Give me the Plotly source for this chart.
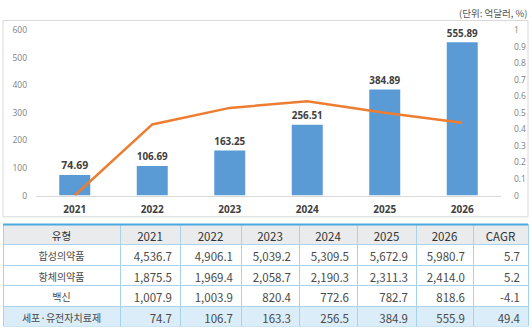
import plotly.graph_objects as go

W, H = 532, 333

years = ["2021", "2022", "2023", "2024", "2025", "2026"]
market = [74.69, 106.69, 163.25, 256.51, 384.89, 555.89]
growth = [0.0, 0.43, 0.53, 0.57, 0.50, 0.44]

left_ticks = [0, 100, 200, 300, 400, 500, 600]
right_ticks = [0, 0.1, 0.2, 0.3, 0.4, 0.5, 0.6, 0.7, 0.8, 0.9, 1]
right_tick_text = ["0", "0.1", "0.2", "0.3", "0.4", "0.5", "0.6", "0.7", "0.8", "0.9", "1"]

unit_text = "(단위: 억달러, %)"

table_header = ["유형", "2021", "2022", "2023", "2024", "2025", "2026", "CAGR"]
types = ["합성의약품", "항체의약품", "백신", "세포·유전자치료제"]
v2021 = [4536.7, 1875.5, 1007.9, 74.7]
v2022 = [4906.1, 1969.4, 1003.9, 106.7]
v2023 = [5039.2, 2058.7, 820.4, 163.3]
v2024 = [5309.5, 2190.3, 772.6, 256.5]
v2025 = [5672.9, 2311.3, 782.7, 384.9]
v2026 = [5980.7, 2414.0, 818.6, 555.9]
cagr = [5.7, 5.2, -4.1, 49.4]


def px_x(x):
    return x / W


def px_y(y):
    return 1 - y / H


fig = go.Figure()

fig.add_trace(go.Bar(
    x=years, y=market,
    marker=dict(color="#5b9bd5", line=dict(width=0)),
    text=[f"{v:.2f}" for v in market],
    textposition="outside",
    textfont=dict(family="Open Sans", size=10.5, color="#404040", weight="bold"),
    cliponaxis=False,
    width=0.4,
    showlegend=False,
))

fig.add_trace(go.Scatter(
    x=years, y=growth, yaxis="y2",
    mode="lines",
    line=dict(color="#ed7d31", width=2.5),
    showlegend=False,
))

fmt = lambda arr: [f"{v:,.1f}" for v in arr]
cols = [types, fmt(v2021), fmt(v2022), fmt(v2023), fmt(v2024), fmt(v2025), fmt(v2026),
        [f"{v:.1f}" for v in cagr]]
row_fill = ["white", "white", "white", "#dbedf8"]

fig.add_trace(go.Table(
    domain=dict(x=[px_x(3), px_x(528)], y=[px_y(332), px_y(226)]),
    columnwidth=[117, 60, 61, 58, 58, 59, 57, 55],
    header=dict(
        values=table_header,
        fill_color="#e9ebed",
        line=dict(color="#a9d3ec", width=1),
        align="center",
        font=dict(family="Noto Sans CJK KR", size=[10.5] + [11.5] * 7, color="#333333"),
        height=20,
    ),
    cells=dict(
        values=cols,
        fill_color=[row_fill] * 8,
        line=dict(color="#a9d3ec", width=1),
        align=["center"] + ["right"] * 7,
        font=dict(family="Noto Sans CJK KR", size=[10] + [11.5] * 7, color="#4a4a4a"),
        height=20.5,
    ),
))

fig.update_layout(
    width=W, height=H,
    margin=dict(l=0, r=0, t=0, b=0),
    paper_bgcolor="white",
    plot_bgcolor="white",
    bargap=0.6,
    xaxis=dict(
        domain=[px_x(36), px_x(501)],
        showline=True, linecolor="#d9d9d9", linewidth=1,
        showgrid=False, ticks="",
        tickfont=dict(family="Open Sans", size=10, color="#404040", weight="bold"),
        ticklabelstandoff=4,
        anchor="y",
    ),
    yaxis=dict(
        domain=[px_y(196), px_y(25)],
        range=[0, 600],
        tickvals=left_ticks,
        showgrid=False, zeroline=False, showline=False,
        tickfont=dict(family="Open Sans", size=8.5, color="#7f7f7f"),
        ticklabelstandoff=8,
    ),
    yaxis2=dict(
        domain=[px_y(196), px_y(25)],
        range=[0, 1],
        overlaying="y", side="right",
        tickvals=right_ticks, ticktext=right_tick_text,
        showgrid=False, zeroline=False, showline=False,
        tickfont=dict(family="Open Sans", size=8.5, color="#7f7f7f"),
        ticklabelstandoff=12,
    ),
    shapes=[
        dict(type="rect", xref="paper", yref="paper",
             x0=px_x(3), x1=px_x(528), y0=px_y(218), y1=px_y(15),
             line=dict(color="#d9d9d9", width=1), fillcolor="rgba(0,0,0,0)", layer="below"),
        dict(type="line", xref="paper", yref="paper",
             x0=px_x(3), x1=px_x(528), y0=px_y(226), y1=px_y(226),
             line=dict(color="#4aa8de", width=2)),
    ],
    annotations=[
        dict(text=unit_text, xref="paper", yref="paper",
             x=px_x(529), y=px_y(7), xanchor="right", yanchor="middle",
             showarrow=False,
             font=dict(family="Noto Sans CJK KR", size=9.5, color="#555555")),
    ],
)

fig.write_html("out.html")
